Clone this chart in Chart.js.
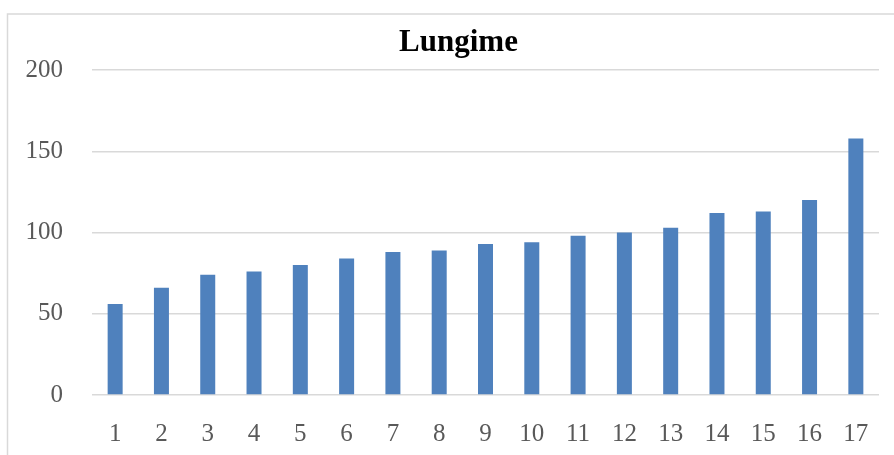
<!DOCTYPE html>
<html>
<head>
<meta charset="utf-8">
<script src="https://cdn.jsdelivr.net/npm/chart.js@4.4.0/dist/chart.umd.min.js"></script>
<style>
  html, body { margin: 0; padding: 0; background: #ffffff; }
  #wrap { width: 894px; height: 455px; position: relative; }
</style>
</head>
<body>
<div id="wrap"><canvas id="c" width="894" height="455"></canvas></div>
<script>
const categories = ["1","2","3","4","5","6","7","8","9","10","11","12","13","14","15","16","17"];
const lungimeValues = [56, 66, 74, 76, 80, 84, 88, 89, 93, 94, 98, 100, 103, 112, 113, 120, 158];
const yTicks = [0, 50, 100, 150, 200];
const chartTitle = "Lungime";

const borderPlugin = {
  id: 'outerBorder',
  afterLayout(chart) {
    // centre the title slightly right of the canvas centre, as in the reference
    if (chart.titleBlock) {
      chart.titleBlock.left += 8;
      chart.titleBlock.right += 8;
    }
  },
  beforeDraw(chart) {
    const ctx = chart.ctx;
    ctx.save();
    ctx.fillStyle = '#ffffff';
    ctx.fillRect(0, 0, chart.width, chart.height);
    ctx.strokeStyle = '#d9d9d9';
    ctx.lineWidth = 1.5;
    ctx.beginPath();
    ctx.moveTo(7.5, chart.height + 5);
    ctx.lineTo(7.5, 14);
    ctx.lineTo(chart.width + 5, 14);
    ctx.stroke();
    ctx.restore();
  }
};

new Chart(document.getElementById('c'), {
  type: 'bar',
  data: {
    labels: categories,
    datasets: [{
      label: chartTitle,
      data: lungimeValues,
      backgroundColor: '#4f81bd',
      borderWidth: 0,
      barPercentage: 0.324,
      categoryPercentage: 1.0
    }]
  },
  options: {
    responsive: false,
    animation: false,
    devicePixelRatio: 1,
    layout: { padding: { left: 22, right: 15, top: 0, bottom: 0 } },
    plugins: {
      legend: { display: false },
      tooltip: { enabled: false },
      title: {
        display: true,
        text: chartTitle,
        color: '#000000',
        font: { family: "'Liberation Serif', serif", size: 31, weight: 'bold' },
        padding: { top: 24, bottom: 9 }
      }
    },
    scales: {
      x: {
        grid: { display: false, drawTicks: false },
        border: { display: false },
        ticks: {
          color: '#595959',
          font: { family: "'Liberation Serif', serif", size: 25 },
          padding: 24,
          maxRotation: 0,
          autoSkip: false
        },
        afterFit(scale) { scale.height = 60; }
      },
      y: {
        min: 0,
        max: 200,
        afterBuildTicks(scale) { scale.ticks = yTicks.map(v => ({ value: v })); },
        grid: { color: '#d9d9d9', lineWidth: 1.5, drawTicks: false },
        border: { display: false },
        ticks: {
          color: '#595959',
          font: { family: "'Liberation Serif', serif", size: 25 },
          padding: 29
        },
        afterFit(scale) { scale.width = 70; }
      }
    }
  },
  plugins: [borderPlugin]
});
</script>
</body>
</html>
